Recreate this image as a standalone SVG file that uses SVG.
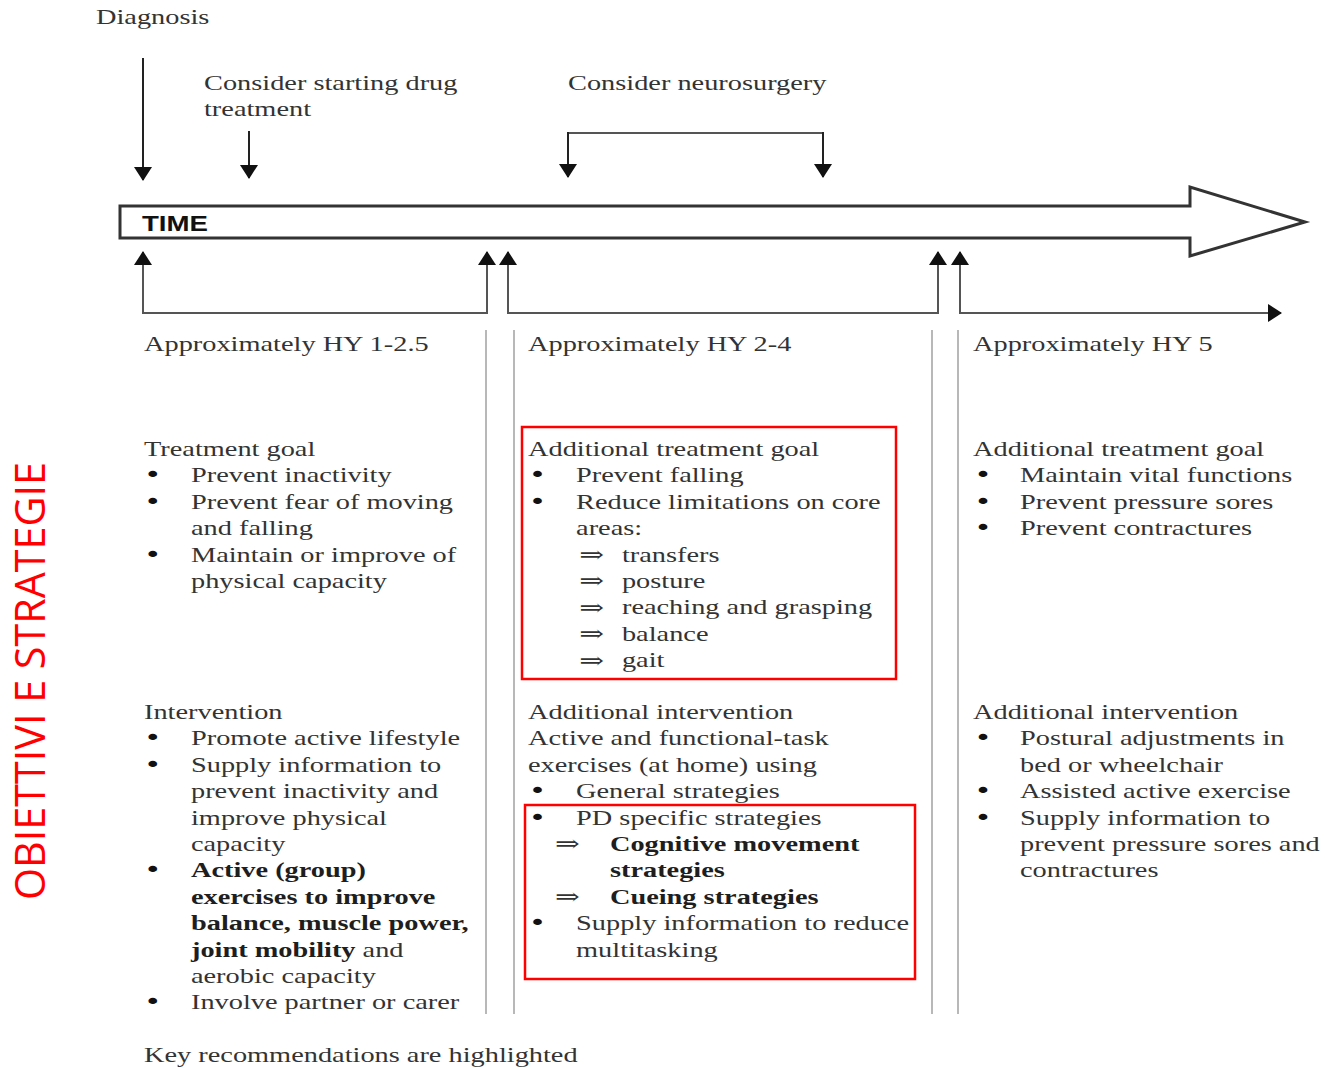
<svg xmlns="http://www.w3.org/2000/svg" width="1325" height="1068" viewBox="0 0 1325 1068">
<style>
.t{font-family:"Liberation Serif","Times New Roman",serif;font-size:21px;fill:#333}
.b{font-weight:bold;fill:#1e1e1e}
.bu{font-family:"DejaVu Sans","Liberation Sans",sans-serif;font-size:22px;fill:#111}
.ar{font-family:"DejaVu Serif","Liberation Serif",serif;font-size:22px;fill:#333}
.sep{stroke:#b8b8b8;stroke-width:2;fill:none}
.con{fill:none;stroke:#555;stroke-width:2}
.dn{fill:none;stroke:#222;stroke-width:2}
.hl{fill:none;stroke:#f00;stroke-width:2.5}
</style>
<defs>
<marker id="ah" viewBox="0 0 14 18" refX="13" refY="9" markerWidth="14" markerHeight="18" markerUnits="userSpaceOnUse" orient="auto">
<path d="M0,0 L14,9 L0,18 z" fill="#111"/>
</marker>
</defs>
<rect width="1325" height="1068" fill="#fff"/>

<g id="side-label">
<text transform="translate(45,900) rotate(-90)" font-family="'Open Sans','Liberation Sans',sans-serif" font-size="42" fill="#ff0000" textLength="438" lengthAdjust="spacingAndGlyphs">OBIETTIVI E STRATEGIE</text>
</g>

<g id="time-arrow">
<polygon points="120,206 1190,206 1190,187 1305,222 1190,256 1190,238 120,238" fill="#fff" stroke="#333" stroke-width="3" stroke-linejoin="miter"/>
<text x="142" y="231" font-family="'Liberation Sans',Arial,sans-serif" font-weight="bold" font-size="22" fill="#111" textLength="66" lengthAdjust="spacingAndGlyphs">TIME</text>
</g>

<g id="diagnosis" transform="translate(96,0) scale(1.35,1)">
<text class="t" x="0" y="24">Diagnosis</text>
</g>
<g id="drug" transform="translate(204,0) scale(1.35,1)">
<text class="t" x="0" y="90">Consider starting drug</text>
<text class="t" x="0" y="116">treatment</text>
</g>
<g id="neurosurgery" transform="translate(568,0) scale(1.35,1)">
<text class="t" x="0" y="90">Consider neurosurgery</text>
</g>

<g id="connectors">
<path class="dn" d="M143,58 V180" marker-end="url(#ah)"/>
<path class="dn" d="M249,131 V178" marker-end="url(#ah)"/>
<path class="con" d="M568,133 H823"/>
<path class="dn" d="M568,132 V177" marker-end="url(#ah)"/>
<path class="dn" d="M823,132 V177" marker-end="url(#ah)"/>
<path class="con" d="M143,313 V252" marker-end="url(#ah)"/>
<path class="con" d="M142,313 H487 V252" marker-end="url(#ah)"/>
<path class="con" d="M508,313 V252" marker-end="url(#ah)"/>
<path class="con" d="M507,313 H938 V252" marker-end="url(#ah)"/>
<path class="con" d="M960,313 V252" marker-end="url(#ah)"/>
<path class="con" d="M959,313 H1281" marker-end="url(#ah)"/>
</g>

<g id="separators">
<line class="sep" x1="486" y1="330" x2="486" y2="1014"/>
<line class="sep" x1="514" y1="330" x2="514" y2="1014"/>
<line class="sep" x1="932" y1="330" x2="932" y2="1014"/>
<line class="sep" x1="958" y1="330" x2="958" y2="1014"/>
</g>

<g id="column-1" transform="translate(144,0) scale(1.35,1)">
<text class="t" x="0" y="351">Approximately HY 1-2.5</text>
<text class="t" x="0" y="456">Treatment goal</text>
<text class="bu" x="0" y="482.4">•</text><text class="t" x="34.8" y="482.4">Prevent inactivity</text>
<text class="bu" x="0" y="508.8">•</text><text class="t" x="34.8" y="508.8">Prevent fear of moving</text>
<text class="t" x="34.8" y="535.2">and falling</text>
<text class="bu" x="0" y="561.6">•</text><text class="t" x="34.8" y="561.6">Maintain or improve of</text>
<text class="t" x="34.8" y="588">physical capacity</text>
<text class="t" x="0" y="719">Intervention</text>
<text class="bu" x="0" y="745.4">•</text><text class="t" x="34.8" y="745.4">Promote active lifestyle</text>
<text class="bu" x="0" y="771.8">•</text><text class="t" x="34.8" y="771.8">Supply information to</text>
<text class="t" x="34.8" y="798.2">prevent inactivity and</text>
<text class="t" x="34.8" y="824.6">improve physical</text>
<text class="t" x="34.8" y="851">capacity</text>
<text class="bu" x="0" y="877.4">•</text><text class="t b" x="34.8" y="877.4">Active (group)</text>
<text class="t b" x="34.8" y="903.8">exercises to improve</text>
<text class="t b" x="34.8" y="930.2">balance, muscle power,</text>
<text class="t" x="34.8" y="956.6"><tspan class="b">joint mobility</tspan> and</text>
<text class="t" x="34.8" y="983">aerobic capacity</text>
<text class="bu" x="0" y="1009.4">•</text><text class="t" x="34.8" y="1009.4">Involve partner or carer</text>
<text class="t" x="0" y="1062">Key recommendations are highlighted</text>
</g>

<g id="column-2" transform="translate(528,0) scale(1.35,1)">
<text class="t" x="0" y="351">Approximately HY 2-4</text>
<text class="t" x="0" y="456">Additional treatment goal</text>
<text class="bu" x="0.5" y="482.4">•</text><text class="t" x="35.6" y="482.4">Prevent falling</text>
<text class="bu" x="0.5" y="508.8">•</text><text class="t" x="35.6" y="508.8">Reduce limitations on core</text>
<text class="t" x="35.6" y="535.2">areas:</text>
<text class="ar" x="38" y="562">⇒</text><text class="t" x="69.6" y="561.6">transfers</text>
<text class="ar" x="38" y="588.4">⇒</text><text class="t" x="69.6" y="588">posture</text>
<text class="ar" x="38" y="614.8">⇒</text><text class="t" x="69.6" y="614.4">reaching and grasping</text>
<text class="ar" x="38" y="641.2">⇒</text><text class="t" x="69.6" y="640.8">balance</text>
<text class="ar" x="38" y="667.6">⇒</text><text class="t" x="69.6" y="667.2">gait</text>
<text class="t" x="0" y="719">Additional intervention</text>
<text class="t" x="0" y="745.4">Active and functional-task</text>
<text class="t" x="0" y="771.8">exercises (at home) using</text>
<text class="bu" x="0.5" y="798.2">•</text><text class="t" x="35.6" y="798.2">General strategies</text>
<text class="bu" x="0.5" y="824.6">•</text><text class="t" x="35.6" y="824.6">PD specific strategies</text>
<text class="ar" x="20" y="851.4">⇒</text><text class="t b" x="60.7" y="851">Cognitive movement</text>
<text class="t b" x="60.7" y="877.4">strategies</text>
<text class="ar" x="20" y="904.2">⇒</text><text class="t b" x="60.7" y="903.8">Cueing strategies</text>
<text class="bu" x="0.5" y="930.2">•</text><text class="t" x="35.6" y="930.2">Supply information to reduce</text>
<text class="t" x="35.6" y="956.6">multitasking</text>
</g>

<g id="column-3" transform="translate(973,0) scale(1.35,1)">
<text class="t" x="0" y="351">Approximately HY 5</text>
<text class="t" x="0" y="456">Additional treatment goal</text>
<text class="bu" x="1" y="482.4">•</text><text class="t" x="34.8" y="482.4">Maintain vital functions</text>
<text class="bu" x="1" y="508.8">•</text><text class="t" x="34.8" y="508.8">Prevent pressure sores</text>
<text class="bu" x="1" y="535.2">•</text><text class="t" x="34.8" y="535.2">Prevent contractures</text>
<text class="t" x="0" y="719">Additional intervention</text>
<text class="bu" x="1" y="745.4">•</text><text class="t" x="34.8" y="745.4">Postural adjustments in</text>
<text class="t" x="34.8" y="771.8">bed or wheelchair</text>
<text class="bu" x="1" y="798.2">•</text><text class="t" x="34.8" y="798.2">Assisted active exercise</text>
<text class="bu" x="1" y="824.6">•</text><text class="t" x="34.8" y="824.6">Supply information to</text>
<text class="t" x="34.8" y="851">prevent pressure sores and</text>
<text class="t" x="34.8" y="877.4">contractures</text>
</g>

<g id="highlights">
<rect class="hl" x="522" y="427" width="374" height="252"/>
<rect class="hl" x="525" y="805" width="390" height="174"/>
</g>
</svg>
